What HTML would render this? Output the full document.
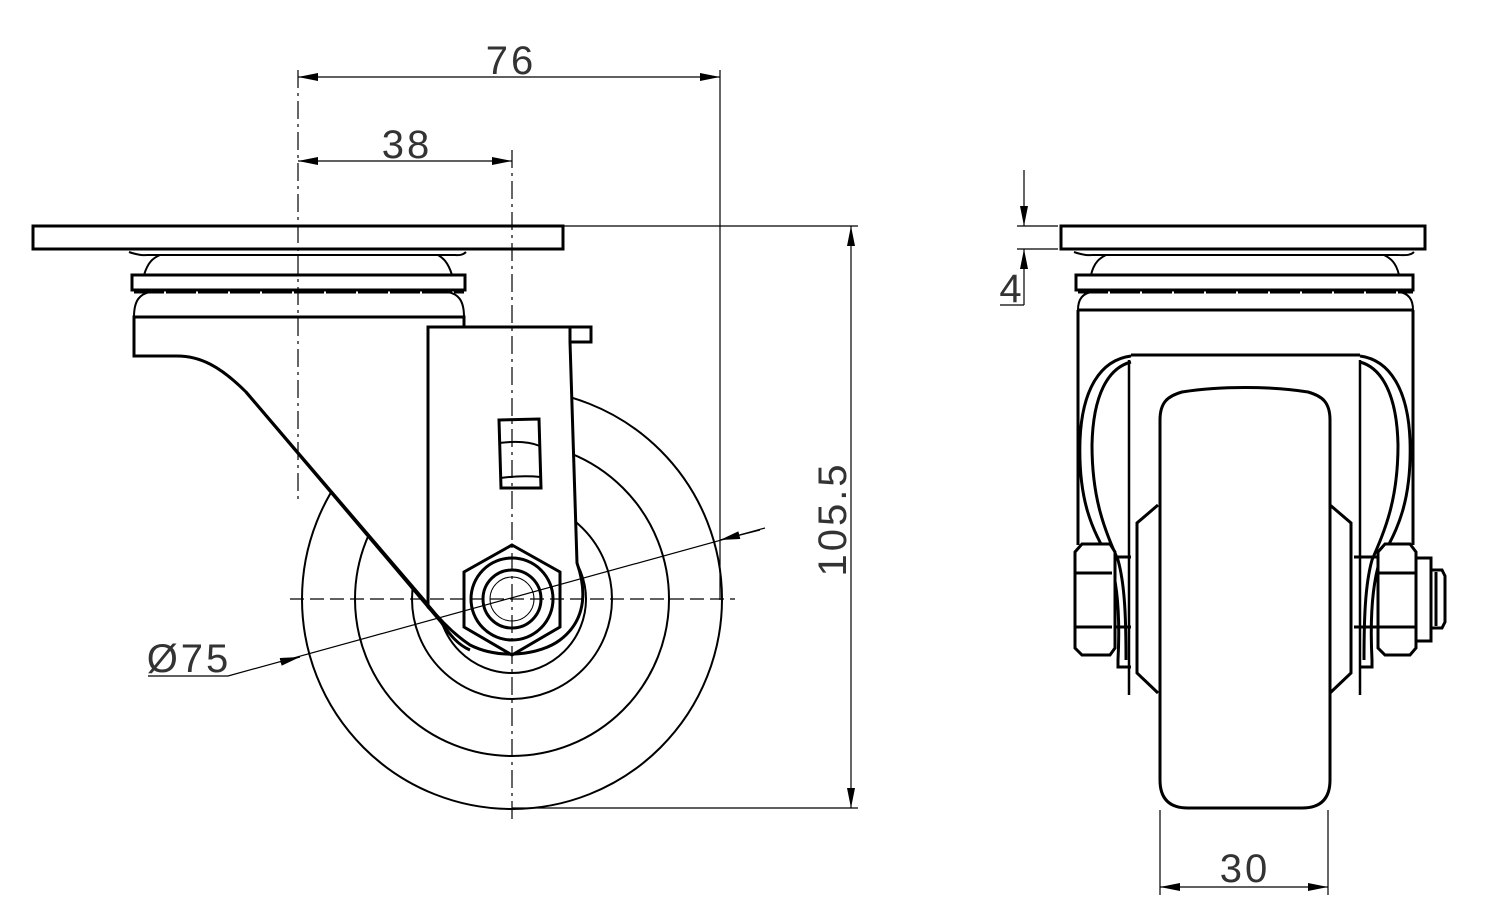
<!DOCTYPE html>
<html><head><meta charset="utf-8"><style>
html,body{margin:0;padding:0;background:#fff}
svg{display:block}
text{font-family:"Liberation Sans",sans-serif;font-weight:normal;fill:#333;letter-spacing:3px}
</style></head><body>
<svg width="1494" height="921" viewBox="0 0 1494 921" xmlns="http://www.w3.org/2000/svg">
<defs>
<marker id="a" viewBox="0 0 20 8" refX="20" refY="4" markerWidth="20" markerHeight="8" markerUnits="userSpaceOnUse" orient="auto-start-reverse"><path d="M0,0 L20,4 L0,8 z" fill="#000"/></marker>
</defs>
<g fill="none" stroke="#000">
<g stroke-width="2">
<circle cx="512" cy="599" r="210"/>
<circle cx="512" cy="599" r="157"/>
<circle cx="512" cy="599" r="100"/>
<circle cx="512" cy="599" r="74"/>
</g>
<path d="M134,317 L464,317 L464,327 L428,327 L428,607 L441,620 L430,607 L246,392 C220,366 200,356 177,356 L134,356 Z" fill="#fff" stroke="#000" stroke-width="3"/>
<path d="M428,327 L570,327 L570,342 L577,563 C590,600 580,625 560,640 C540,655 500,660 470,645 C455,635 440,620 428,605 Z" fill="#fff" stroke="#000" stroke-width="3"/>
<path d="M570,327 L591,327 L591,342 L570,342" stroke-width="3"/>
<path d="M246,392 L441,622 C450,635 458,645 470,650" stroke-width="3"/>
<path d="M129,252 C140,256 145,255 150,255 L452,255 C458,255 462,256 466,252" stroke-width="2"/>
<path d="M144,275 C148,262 153,258 160,255 M452,275 C448,262 443,258 438,255" stroke-width="2"/>
<rect x="33" y="226" width="530" height="23" fill="#fff" stroke-width="3"/>
<rect x="132" y="275" width="333" height="15" fill="#fff" stroke-width="3"/>
<path d="M134,292 L464,292" stroke-width="3" stroke-dasharray="30 2"/>
<path d="M134,317 C134,300 140,294 150,292 M464,317 C464,300 458,294 448,292" stroke-width="2"/>
<path d="M499,420 L539,419 L541,488 L501,488 Z" stroke-width="3"/>
<path d="M499,443 C515,441 530,442 540,446 M500,478 C515,476 530,476 541,477" stroke-width="2"/>
<polygon points="512,545 560,572 560,627 512,655 464,627 464,572" fill="#fff" stroke-width="3"/>
<circle cx="512" cy="599" r="41" stroke-width="3"/>
<circle cx="512" cy="599" r="29" stroke-width="3"/>
<circle cx="512" cy="599" r="22" stroke-width="1"/>
<g stroke-width="1.2">
<path d="M512,150 L512,820" stroke-dasharray="18 5 3 5"/>
<path d="M298,70 L298,500" stroke-dasharray="18 5 3 5"/>
<path d="M290,599 L735,599" stroke-dasharray="14 6"/>
<path d="M720,70 L720,600"/>
<path d="M564,226 L858,226 M512,808 L858,808"/>
<line x1="298" y1="77" x2="720" y2="77" marker-start="url(#a)" marker-end="url(#a)"/>
<line x1="298" y1="161" x2="512" y2="161" marker-start="url(#a)" marker-end="url(#a)"/>
<line x1="851" y1="226" x2="851" y2="808" marker-start="url(#a)" marker-end="url(#a)"/>
<path d="M148,676 L228,676 L765,528"/>
<line x1="280" y1="662" x2="300" y2="657" marker-end="url(#a)"/>
<line x1="760" y1="530" x2="720" y2="540" marker-end="url(#a)"/>
</g>
<g stroke-width="3">
<path d="M1078,310 L1078,545 M1413,310 L1413,545"/>
<path d="M1129,360 L1129,695 M1360,360 L1360,695" stroke-width="2.5"/>
<path d="M1160,420 C1160,402 1168,396 1182,392 C1220,386 1270,386 1308,392 C1322,396 1330,402 1330,420 L1330,780 Q1330,808 1302,808 L1188,808 Q1160,808 1160,780 Z" fill="#fff"/>
<path d="M1158,505 L1137,523 L1137,673 L1158,693 M1330,505 L1351,523 L1351,673 L1330,693"/>
<path d="M1131,355 L1360,355"/>
<path d="M1131,356 C1100,360 1082,390 1080,440 C1078,500 1092,530 1110,560 C1118,585 1120,620 1118,660 L1118,667 L1131,667"/>
<path d="M1131,362 C1108,368 1093,395 1092,445 C1092,500 1105,530 1118,560 C1125,585 1126,620 1126,660"/>
<path d="M1360,356 C1390,360 1408,390 1410,440 C1412,500 1398,530 1380,560 C1372,585 1370,620 1372,660 L1372,667 L1360,667"/>
<path d="M1360,362 C1382,368 1397,395 1398,445 C1398,500 1385,530 1372,560 C1365,585 1364,620 1364,660"/>
<path d="M1114,557 L1131,557 M1114,627 L1131,627 M1354,557 L1377,557 M1354,627 L1377,627"/>
<path d="M1082,544 L1110,544 L1115,552 L1115,648 L1110,655 L1082,655 L1075,648 L1075,552 Z" fill="#fff"/>
<path d="M1075,573 L1112,573 M1075,627 L1112,627"/>
<path d="M1385,544 L1410,544 L1416,552 L1416,648 L1410,655 L1385,655 L1378,648 L1378,552 Z" fill="#fff"/>
<path d="M1378,573 L1416,573 M1378,627 L1416,627"/>
<rect x="1416" y="558" width="15" height="83"/>
<path d="M1431,570 L1442,570 L1445,576 L1445,622 L1442,628 L1431,628 M1436,572 L1436,626"/>
<path d="M1074,252 C1085,256 1090,255 1095,255 L1395,255 C1405,255 1410,256 1414,252" stroke-width="2"/>
<path d="M1091,275 C1094,262 1100,258 1106,255 M1399,275 C1396,262 1390,258 1384,255" stroke-width="2"/>
<rect x="1061" y="226" width="364" height="23" fill="#fff"/>
<rect x="1076" y="275" width="337" height="15" fill="#fff"/>
<path d="M1078,292 L1413,292" stroke-dasharray="30 2"/>
<path d="M1078,310 L1413,310"/>
<path d="M1078,310 C1078,298 1084,293 1092,292 M1413,310 C1413,298 1407,293 1399,292" stroke-width="2"/>
</g>
<g stroke-width="1.2">
<path d="M1017,226 L1058,226 M1017,249 L1058,249"/>
<line x1="1024" y1="170" x2="1024" y2="226" marker-end="url(#a)"/>
<line x1="1024" y1="305" x2="1024" y2="249" marker-end="url(#a)"/>
<path d="M1000,305 L1024,305"/>
<path d="M1160,810 L1160,895 M1328,810 L1328,895"/>
<line x1="1160" y1="887" x2="1328" y2="887" marker-start="url(#a)" marker-end="url(#a)"/>
</g>
</g>
<text x="511" y="74" font-size="40" text-anchor="middle">76</text>
<text x="407" y="158" font-size="40" text-anchor="middle">38</text>
<text x="189" y="672" font-size="40" text-anchor="middle">Ø75</text>
<text transform="translate(846,519) rotate(-90)" font-size="40" text-anchor="middle">105.5</text>
<text x="1012" y="302" font-size="40" text-anchor="middle">4</text>
<text x="1245" y="882" font-size="40" text-anchor="middle">30</text>
</svg>
</body></html>
